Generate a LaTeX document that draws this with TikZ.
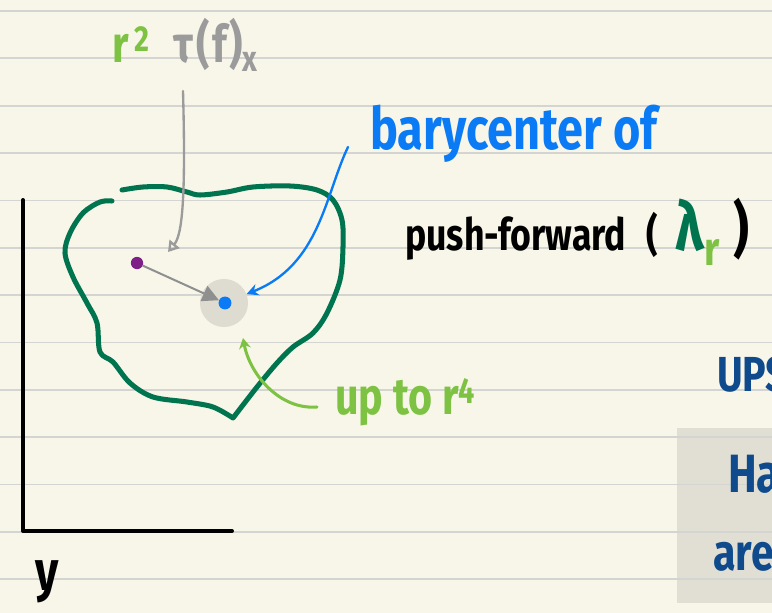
\documentclass[tikz,border=0pt]{standalone}
\usepackage{amsmath, amssymb}
\usepackage{fontspec}
\newfontfamily\handfont[FakeStretch=0.8]{Fira Sans}
\usepackage{tikz}
\usetikzlibrary{arrows.meta, positioning, calc}
\definecolor{Paper}{HTML}{F8F6E9}
\definecolor{RuleGray}{HTML}{D4D4D2}
\definecolor{DeepGreen}{HTML}{00744F}
\definecolor{LimeGreen}{HTML}{7DC242}
\definecolor{BaryBlue}{HTML}{0A7BF4}
\definecolor{InkBlue}{HTML}{0E4A8C}
\definecolor{Plum}{HTML}{7D1F87}
\definecolor{PencilGray}{HTML}{9B9B9B}
\definecolor{ArrowGray}{HTML}{8F8F8F}
\definecolor{Haze}{HTML}{DEDCD1}

\begin{document}
\begin{tikzpicture}[x=0.03cm, y=-0.03cm, line cap=round, line join=round,
        hand/.style={font=\handfont\bfseries\fontsize{#1}{#1}\selectfont, inner sep=0pt},
        spot/.style={circle, inner sep=0pt, minimum size=#1},
        pencil/.style={-{Triangle[open, length=9pt, width=11pt]}, color=PencilGray, line width=2pt},
        inkline/.style={-{Stealth[length=10pt, width=10pt]}, color=BaryBlue, line width=2pt},
        limeline/.style={-{Stealth[length=9pt, width=10pt]}, color=LimeGreen, line width=2.6pt},
        pull/.style={-{Triangle[length=14pt, width=14pt]}, color=ArrowGray, line width=1.7pt}]
        % Ruled paper page, clipped to the frame
        \useasboundingbox (0,0) rectangle (772,613);
        \clip (0,0) rectangle (772,613);
        \fill[Paper] (0,0) rectangle (772,613);
        
        % Highlighted note box at the right edge (under the rules)
        \fill[Haze!90!Paper] (677,428) rectangle (772,603);
        
        % Ruled lines
        \foreach \row in {0,...,12}
            \draw[RuleGray, line width=1.5pt] (0,{11+47.35*\row}) -- (772,{11+47.35*\row});
        
        % Axes
        \draw[black, line width=3.4pt] (23,200) -- (23,531) -- (232,531);
        \node[hand=48, anchor=base] (yLbl) at (47,590) {y};
        
        % Image of the region (open hand-drawn loop)
        \draw[DeepGreen, line width=4.3pt]
            plot[smooth, tension=0.55] coordinates {(122,190) (143,187) (167,187) (187,192) (200,195)
                (227,192) (253,187) (290,186) (317,190) (333,200) (342,220) (343,247) (340,280)
                (327,313) (313,333) (293,347) (277,363) (257,387) (233,418)}
            -- plot[smooth, tension=0.55] coordinates {(233,418) (213,407) (187,402) (153,397)
                (130,383) (113,362) (100,352) (97,323) (87,303) (73,277) (65,253) (70,233)
                (83,213) (100,202) (112,201)};
        
        % Barycenter halo and the two points
        \node[spot=41pt, fill=Haze] (halo) at (224,303) {};
        \node[spot=10.5pt, fill=Plum] (src) at (137,263) {};
        \node[spot=11pt, fill=BaryBlue] (bary) at (225,303) {};
        \draw[pull] (src) -- (bary);
        
        % Top label r^2 tau(f)_x
        \node[hand=44, anchor=base west] (tauLbl) at (112,62)
            {\textcolor{LimeGreen}{r\hspace{0.12em}\textsuperscript{2}}\hspace{0.45em}\textcolor{PencilGray}{τ\hspace{0.05em}(\hspace{0.05em}f\hspace{0.05em})\textsubscript{x}}};
        \coordinate (tauTip) at (168,252);
        \draw[pencil] ($(tauLbl.base west)+(71,29)$) .. controls (186,200) and (182,235) .. (tauTip);
        
        % Barycenter callout
        \node[hand=50, color=BaryBlue, anchor=base west] (baryLbl) at (370,149) {barycenter of};
        \draw[inkline] ($(baryLbl.base west)+(-22,-2)$) .. controls (325,195) and (320,265) .. (halo);
        
        % Push-forward label
        \node[hand=38, anchor=base west] (pushLbl) at (405,250)
            {push-forward\hspace{0.45em}(\hspace{0.4em}{\fontsize{58}{58}\selectfont\textcolor{DeepGreen}{λ}\textsubscript{\textcolor{LimeGreen}{r}}}\hspace{0.3em}{\fontsize{52}{52}\selectfont)}};
        
        % Error term callout
        \node[hand=44, color=LimeGreen, anchor=base west] (upLbl) at (335,414) {up to r\textsuperscript{4}};
        \coordinate (upTip) at (243,338);
        \draw[limeline] ($(upLbl.base west)+(-18,-7)$) .. controls (280,410) and (250,375) .. (upTip);
        
        % Cut-off notes at the right edge
        \node[hand=42, color=InkBlue, anchor=base west] (upsLbl) at (717,391) {UPS};
        \node[hand=46, color=InkBlue, anchor=base west] (haLbl) at (728,492) {Ha};
        \node[hand=44, color=InkBlue, anchor=base west] (areLbl) at (713,570) {are};
    \end{tikzpicture}
\end{document}
